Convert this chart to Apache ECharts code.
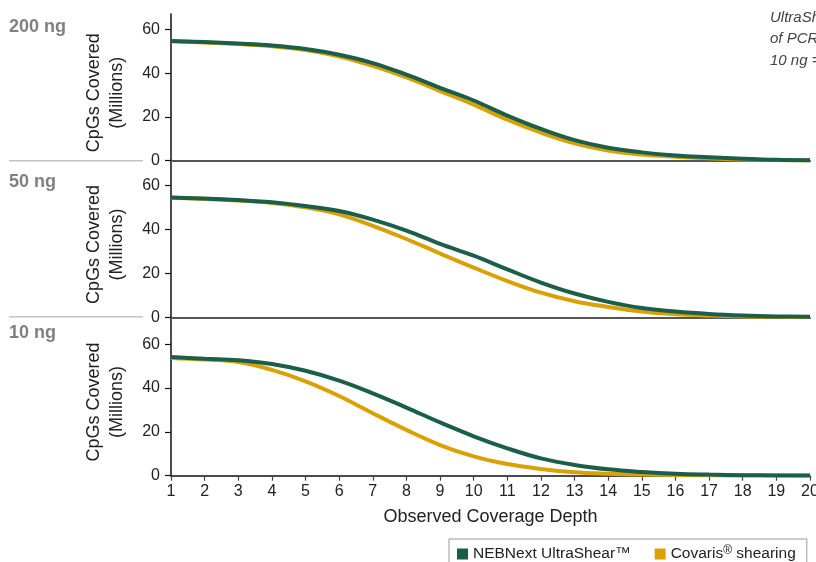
<!DOCTYPE html>
<html>
<head>
<meta charset="utf-8">
<script src="https://cdn.jsdelivr.net/npm/echarts@6/dist/echarts.min.js"></script>
<style>
html,body{margin:0;padding:0;background:#fff;}
#chart{width:816px;height:562px;}
</style>
</head>
<body>
<div id="chart"></div>
<script>
// ---- data ----
const depth = [1, 2, 3, 4, 5, 6, 7, 8, 9, 10, 11, 12, 13, 14, 15, 16, 17, 18, 19, 20];
const panelLabels = ['200 ng', '50 ng', '10 ng'];
const seriesNames = ['NEBNext UltraShear\u2122', 'Covaris\u00AE shearing'];
const yTicks = [0, 20, 40, 60];
const xTitle = 'Observed Coverage Depth';
const yTitle = 'CpGs Covered\n(Millions)';
const noteLines = ['UltraShear', 'of PCR', '10 ng ='];

const ultra200 = [54.7, 54.2, 53.5, 52.6, 51.0, 48.4, 44.6, 39.3, 33.3, 27.5, 20.6, 14.5, 9.4, 5.9, 3.8, 2.4, 1.6, 0.9, 0.4, 0.2];
const covaris200 = [54.5, 54.0, 53.3, 52.3, 50.5, 47.6, 43.3, 38.0, 31.8, 25.6, 18.7, 12.8, 7.9, 4.6, 2.8, 1.8, 1.1, 0.6, 0.3, 0.1];
const ultra50 = [54.5, 54.0, 53.3, 52.3, 50.6, 48.3, 44.4, 39.4, 33.4, 28.0, 21.8, 15.8, 10.8, 7.0, 4.2, 2.6, 1.5, 0.8, 0.4, 0.2];
const covaris50 = [54.3, 53.8, 53.1, 52.0, 50.0, 46.8, 41.6, 35.6, 29.0, 22.6, 16.5, 11.2, 7.3, 4.7, 2.6, 1.4, 0.8, 0.4, 0.2, 0.1];
const ultra10 = [54.2, 53.4, 52.7, 51.0, 47.9, 43.4, 37.6, 31.1, 24.3, 18.0, 12.5, 7.9, 4.9, 2.9, 1.7, 0.9, 0.5, 0.25, 0.12, 0.05];
const covaris10 = [53.7, 53.0, 51.9, 48.3, 43.1, 36.4, 28.5, 20.9, 14.0, 8.8, 5.3, 3.1, 1.6, 0.9, 0.5, 0.3, 0.15, 0.1, 0.05, 0.02];

const panels = [
  { ultra: ultra200, covaris: covaris200 },
  { ultra: ultra50, covaris: covaris50 },
  { ultra: ultra10, covaris: covaris10 }
];

// ---- layout / style ----
const GREEN = '#1b5e4a';
const GOLD = '#d9a103';
const sans = "'Liberation Sans', Arial, sans-serif";
const gridLayout = [
  { top: 14, height: 146.7, yMax: 67.0 },
  { top: 160.7, height: 156.6, yMax: 71.2 },
  { top: 317.3, height: 158.4, yMax: 72.3 }
];

const grid = [], xAxis = [], yAxis = [], series = [];
gridLayout.forEach((g, i) => {
  grid.push({ left: 171, right: 6, top: g.top, height: g.height, outerBoundsMode: 'none' });
  const last = i === gridLayout.length - 1;
  xAxis.push({
    type: 'value', gridIndex: i, min: 1, max: 20, interval: 1,
    axisLine: { lineStyle: { color: last ? '#111' : '#555', width: last ? 1.5 : 2 } },
    axisTick: { show: last, length: 5, lineStyle: { color: '#444', width: 1.2 } },
    axisLabel: { show: last, fontFamily: sans, fontSize: 16, color: '#222', margin: 8 },
    splitLine: { show: false },
    name: last ? xTitle : '',
    nameLocation: 'middle', nameGap: 32,
    nameTextStyle: { fontFamily: sans, fontSize: 18, color: '#222' }
  });
  yAxis.push({
    type: 'value', gridIndex: i, min: 0, max: g.yMax,
    axisLine: { show: true, lineStyle: { color: '#111', width: 1.5 } },
    axisTick: { show: true, length: 6, customValues: yTicks, lineStyle: { color: '#111', width: 1.2 } },
    axisLabel: { fontFamily: sans, fontSize: 16, color: '#222', margin: 11, customValues: yTicks },
    splitLine: { show: false },
    name: yTitle, nameLocation: 'middle', nameGap: 42,
    nameTextStyle: { fontFamily: sans, fontSize: 18, color: '#222', lineHeight: 23, padding: [0, 11, 0, 0] }
  });
  const p = panels[i];
  series.push({
    name: seriesNames[1], type: 'line', xAxisIndex: i, yAxisIndex: i,
    data: depth.map((d, k) => [d, p.covaris[k]]),
    smooth: 0.4, symbol: 'none', lineStyle: { color: GOLD, width: 4 }, itemStyle: { color: GOLD }, z: 2
  });
  series.push({
    name: seriesNames[0], type: 'line', xAxisIndex: i, yAxisIndex: i,
    data: depth.map((d, k) => [d, p.ultra[k]]),
    smooth: 0.4, symbol: 'none', lineStyle: { color: GREEN, width: 4 }, itemStyle: { color: GREEN }, z: 3
  });
});

const labelY = [29, 184, 335];
const sepY = [160.7, 316.7];
const graphic = [];
panelLabels.forEach((t, i) => {
  graphic.push({ type: 'text', left: 9, top: labelY[i] - 10.5,
    style: { text: t, fontFamily: sans, fontSize: 18, fontWeight: 'bold', fill: '#808080' } });
});
sepY.forEach(y => {
  graphic.push({ type: 'line', shape: { x1: 9, y1: y, x2: 143, y2: y },
    style: { stroke: '#c4c4c4', lineWidth: 1.5 } });
});
graphic.push({ type: 'text', left: 770, top: 7,
  style: { text: noteLines.join('\n'), fontFamily: sans, fontStyle: 'italic', fontSize: 15, lineHeight: 21.5, fill: '#444' } });

const chart = echarts.init(document.getElementById('chart'), null, { renderer: 'canvas' });
chart.setOption({
  animation: false,
  backgroundColor: '#fff',
  grid, xAxis, yAxis, series, graphic,
  legend: {
    data: [seriesNames[0], seriesNames[1]],
    left: 449, top: 539,
    orient: 'horizontal',
    icon: 'rect', itemWidth: 11, itemHeight: 11, itemGap: 24,
    padding: [6, 11, 12, 8],
    borderColor: '#9a9a9a', borderWidth: 1,
    textStyle: {
      fontFamily: sans, fontSize: 15.5, color: '#222',
      rich: {
        a: { fontFamily: sans, fontSize: 15.5, color: '#222', lineHeight: 18 },
        s: { fontFamily: sans, fontSize: 12, color: '#222', verticalAlign: 'top', lineHeight: 18 }
      }
    },
    formatter: function (name) {
      if (name.indexOf('\u00AE') >= 0) {
        const parts = name.split('\u00AE');
        return '{a|' + parts[0] + '}{s|\u00AE}{a|' + parts[1] + '}';
      }
      return '{a|' + name + '}';
    }
  }
});
</script>
</body>
</html>
